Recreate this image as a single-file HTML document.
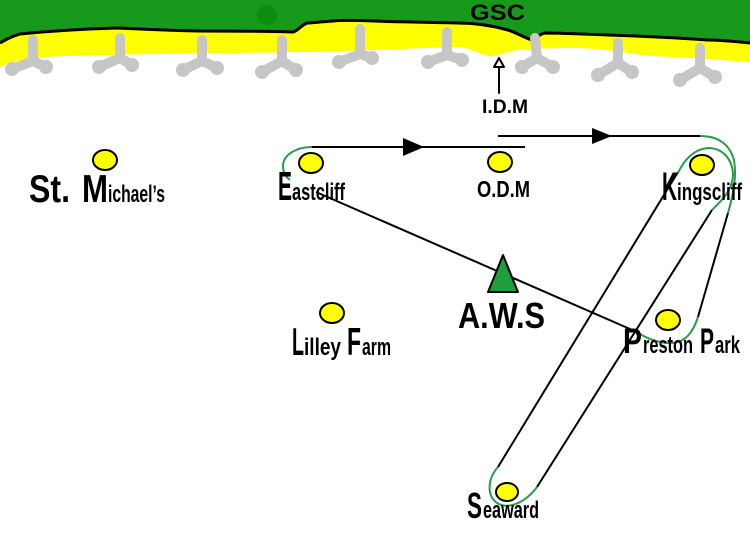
<!DOCTYPE html>
<html><head><meta charset="utf-8"><style>
html,body{margin:0;padding:0;background:#fff;}
svg{display:block;}
text{font-family:"Liberation Sans",Arial,sans-serif;font-weight:bold;fill:#000;}
</style></head><body>
<svg width="750" height="533" viewBox="0 0 750 533" xmlns="http://www.w3.org/2000/svg">
<rect width="750" height="533" fill="#fff"/>
<!-- yellow band -->
<path d="M0,0 H750 V62 C720,60 700,58 692,58 C670,57 655,56 642,55 C610,50 590,48 575,48 C545,48 530,49 518,50 C505,52 495,57 488,56 C475,52 465,47 458,47 C420,48 400,49 375,50 C340,51 320,52 300,52 C250,53 220,53 200,53 C150,54 120,55 100,55 C70,56 50,56 33,58 C15,61 5,64 0,67 Z" fill="#ffff00"/>
<!-- green area -->
<path d="M0,0 H750 V43 C730,41 715,40 708,40 C680,38 640,36 608,35 C580,34 560,33 545,33 C538,34 536,40 532,40 C525,38 515,32 508,30 C490,25 475,23 458,23 C420,22 395,22 375,21 C350,20 340,20 333,21 C318,22 312,23 307,23 C300,26 298,31 293,32 C260,31 230,31 200,31 C160,30 140,29 117,28 C80,29 50,31 20,34 C10,37 5,40 0,43 Z" fill="#179a1b"/>
<path d="M750,43 C730,41 715,40 708,40 C680,38 640,36 608,35 C580,34 560,33 545,33 C538,34 536,40 532,40 C525,38 515,32 508,30 C490,25 475,23 458,23 C420,22 395,22 375,21 C350,20 340,20 333,21 C318,22 312,23 307,23 C300,26 298,31 293,32 C260,31 230,31 200,31 C160,30 140,29 117,28 C80,29 50,31 20,34 C10,37 5,40 0,43" fill="none" stroke="#000" stroke-width="3"/>
<circle cx="267" cy="15" r="10" fill="#0c8e0c"/>
<text x="470" y="20" font-size="22" textLength="55" lengthAdjust="spacingAndGlyphs">GSC</text>
<!-- tripods -->
<g fill="none" stroke="#c6c6c6" stroke-width="10" stroke-linecap="round" stroke-linejoin="round">
<path d="M33,40 L33,61 M12,69 L33,61 L46,67"/>
<path d="M120,38 L120,58 M99,67 L120,58 L132,65"/>
<path d="M202,40 L202,61 M183,70 L202,61 L217,68"/>
<path d="M282,40 L282,61 M262,72 L282,61 L296,70"/>
<path d="M360,29 L360,54 M339,62 L360,54 L372,58"/>
<path d="M447,32 L447,55 M428,62 L447,55 L462,60"/>
<path d="M535,38 L537,58 M522,67 L537,58 L553,67"/>
<path d="M618,43 L618,63 M598,75 L618,63 L632,72"/>
<path d="M700,48 L700,68 M680,80 L700,68 L715,77"/>
</g>
<g fill="#c6c6c6">
<circle cx="12" cy="69" r="7"/><circle cx="46" cy="67" r="7"/>
<circle cx="99" cy="67" r="7"/><circle cx="132" cy="65" r="7"/>
<circle cx="183" cy="70" r="7"/><circle cx="217" cy="68" r="7"/>
<circle cx="262" cy="72" r="7"/><circle cx="296" cy="70" r="7"/>
<circle cx="339" cy="62" r="7"/><circle cx="372" cy="58" r="7"/>
<circle cx="428" cy="62" r="7"/><circle cx="462" cy="60" r="7"/>
<circle cx="522" cy="67" r="7"/><circle cx="553" cy="67" r="7"/>
<circle cx="598" cy="75" r="7"/><circle cx="632" cy="72" r="7"/>
<circle cx="680" cy="80" r="7"/><circle cx="715" cy="77" r="7"/>
</g>
<g stroke="#000" stroke-width="2" stroke-linecap="round" stroke-linejoin="round" fill="#000">
<path d="M499,66 L499,93" fill="none"/>
<polygon points="499,58 494,67 504,67" fill="#fff"/>
</g>
<text x="482" y="113" font-size="19" textLength="46" lengthAdjust="spacingAndGlyphs">I.D.M</text>
<!-- connectors -->
<g stroke="#000" stroke-width="2" fill="none">
<path d="M312,147 H525"/>
<path d="M498,136 H700"/>
<path d="M316,192 L630,329"/>
<path d="M678,172 L498,467"/>
<path d="M712,210 L537,487"/>
<path d="M728,213 L698,317"/>
</g>
<polygon points="403,138 424,147 403,156" fill="#000"/>
<polygon points="592,128 612,136 592,144" fill="#000"/>
<!-- green loops -->
<g stroke="#2b9a4a" stroke-width="2" fill="none">
<path d="M312,147 C296,147 283,155 283,166 C283,172 286,177 290,180"/>
<path d="M700,136 C720,136 730,146 734,160 C737,178 733,195 728,213"/>
<path d="M678,173 C684,160 694,149 708,148 C722,148 732,158 733,174 C733,190 722,200 712,210"/>
<path d="M698,317 C693,332 686,342 672,343 C660,343 650,340 640,334"/>
<path d="M498,467 C488,478 486,495 497,503 C508,510 525,503 537,487"/>
</g>
<!-- AWS triangle -->
<polygon points="503,255 488,292 518,292" fill="#1f9e3c" stroke="#000" stroke-width="2" stroke-linejoin="round"/>
<!-- circles -->
<g fill="#ffff00" stroke="#000" stroke-width="2">
<ellipse cx="105" cy="160" rx="12" ry="10"/>
<ellipse cx="311" cy="163" rx="12" ry="10"/>
<ellipse cx="500" cy="162" rx="12" ry="10"/>
<ellipse cx="702" cy="165" rx="12" ry="10"/>
<ellipse cx="332" cy="313" rx="12" ry="10"/>
<ellipse cx="668" cy="320" rx="12" ry="10"/>
<ellipse cx="507" cy="492" rx="11" ry="9"/>
</g>
<!-- labels -->
<text x="29" y="202" font-size="39" textLength="41" lengthAdjust="spacingAndGlyphs">St.</text>
<text x="82" y="202" font-size="39" textLength="26" lengthAdjust="spacingAndGlyphs">M</text>
<text x="108" y="202" font-size="24" textLength="57" lengthAdjust="spacingAndGlyphs">ichael’s</text>

<text x="278" y="200" font-size="41" textLength="14" lengthAdjust="spacingAndGlyphs">E</text>
<text x="292" y="200" font-size="24" textLength="53" lengthAdjust="spacingAndGlyphs">astcliff</text>

<text x="477" y="197" font-size="23" textLength="53" lengthAdjust="spacingAndGlyphs">O.D.M</text>

<text x="662" y="200" font-size="40" textLength="15" lengthAdjust="spacingAndGlyphs">K</text>
<text x="677" y="200" font-size="24" textLength="65" lengthAdjust="spacingAndGlyphs">ingscliff</text>

<text x="458" y="328" font-size="36" textLength="87" lengthAdjust="spacingAndGlyphs">A.W.S</text>

<text x="292" y="355" font-size="39" textLength="12" lengthAdjust="spacingAndGlyphs">L</text>
<text x="304" y="355" font-size="24" textLength="37" lengthAdjust="spacingAndGlyphs">illey</text>
<text x="347" y="355" font-size="39" textLength="14" lengthAdjust="spacingAndGlyphs">F</text>
<text x="362" y="355" font-size="24" textLength="29" lengthAdjust="spacingAndGlyphs">arm</text>

<text x="623" y="353" font-size="35" textLength="19" lengthAdjust="spacingAndGlyphs">P</text>
<text x="643" y="353" font-size="24" textLength="50" lengthAdjust="spacingAndGlyphs">reston</text>
<text x="700" y="353" font-size="35" textLength="14" lengthAdjust="spacingAndGlyphs">P</text>
<text x="715" y="353" font-size="24" textLength="25" lengthAdjust="spacingAndGlyphs">ark</text>

<text x="467" y="518" font-size="36" textLength="15" lengthAdjust="spacingAndGlyphs">S</text>
<text x="483" y="518" font-size="24" textLength="56" lengthAdjust="spacingAndGlyphs">eaward</text>
</svg>
</body></html>
